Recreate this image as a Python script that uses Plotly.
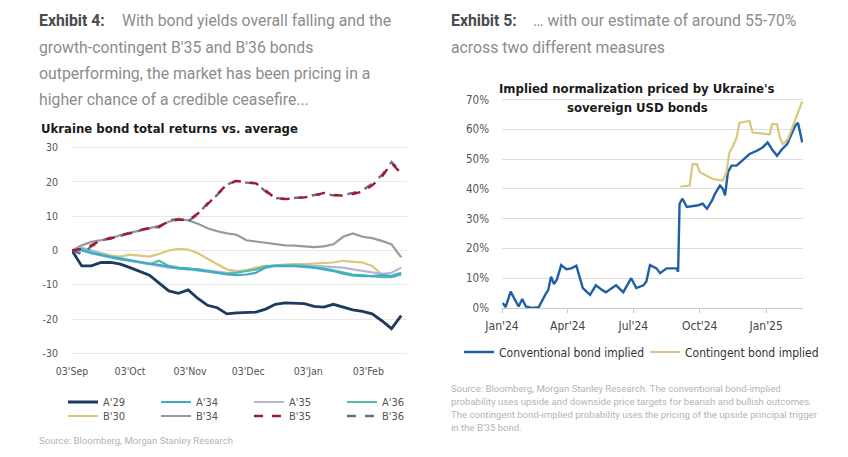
import plotly.graph_objects as go

W, H = 848, 457

# ---------------- Left chart data (Exhibit 4) ----------------
left_dates = [
    "2024-09-03", "2024-09-08", "2024-09-13", "2024-09-18", "2024-09-23", "2024-09-28",
    "2024-10-03", "2024-10-08", "2024-10-13", "2024-10-18", "2024-10-23", "2024-10-28",
    "2024-11-02", "2024-11-07", "2024-11-12", "2024-11-17", "2024-11-22", "2024-11-27",
    "2024-12-02", "2024-12-07", "2024-12-12", "2024-12-17", "2024-12-22", "2024-12-27",
    "2025-01-01", "2025-01-06", "2025-01-11", "2025-01-16", "2025-01-21", "2025-01-26",
    "2025-01-31", "2025-02-05", "2025-02-10", "2025-02-15", "2025-02-20",
]
a29 = [0, -4.5, -4.5, -3.5, -3.5, -4.0, -5.0, -6.0, -7.2, -9.5, -11.8, -12.5,
       -11.5, -14.0, -16.0, -16.7, -18.5, -18.2, -18.0, -18.0, -17.1, -15.7, -15.3, -15.4,
       -15.5, -16.3, -16.5, -15.7, -16.5, -17.3, -17.8, -18.5, -20.5, -22.8, -19.0]
a34 = [0, 0, -0.8, -1.5, -2.0, -2.5, -3.0, -3.5, -3.8, -4.2, -4.8, -5.2,
       -5.5, -5.5, -6.0, -6.5, -7.0, -7.2, -7.0, -6.5, -5.0, -4.5, -4.5, -4.6,
       -4.8, -5.0, -5.5, -6.0, -6.8, -7.3, -7.5, -7.5, -7.2, -7.4, -6.5]
a35 = [0, 0.8, 0, -1.0, -1.8, -2.5, -3.0, -3.5, -4.0, -4.5, -5.0, -5.2,
       -5.2, -5.5, -5.8, -6.2, -6.5, -6.3, -6.0, -5.5, -4.8, -4.3, -4.2, -4.2,
       -4.3, -4.5, -4.6, -4.8, -5.0, -5.5, -6.0, -6.5, -6.8, -6.5, -5.0]
a36 = [0, 0.5, -0.5, -1.2, -1.8, -2.2, -2.8, -3.2, -4.0, -3.0, -4.5, -5.0,
       -5.2, -5.8, -6.2, -6.5, -6.8, -6.5, -6.0, -5.5, -4.6, -4.4, -4.3, -4.3,
       -4.5, -5.0, -5.2, -5.8, -6.3, -7.0, -7.2, -7.6, -7.8, -7.8, -7.0]
b30 = [0, 0.5, 0, -0.8, -1.5, -1.8, -1.2, -1.5, -1.8, -1.0, 0, 0.5,
       0.3, -0.8, -2.5, -4.0, -5.5, -6.0, -5.8, -5.0, -4.5, -4.3, -4.2, -4.0,
       -4.0, -3.8, -3.8, -3.5, -3.0, -3.2, -3.5, -4.5, -7.0, -7.8, -7.0]
b34 = [0, 1.5, 2.5, 3.0, 3.5, 4.5, 5.2, 5.8, 6.6, 7.2, 8.4, 9.2,
       8.8, 7.8, 6.5, 5.6, 5.0, 4.6, 3.0, 2.6, 2.1, 1.8, 1.5, 1.4,
       1.3, 1.0, 1.2, 1.8, 4.0, 5.0, 4.0, 3.6, 2.8, 1.8, -2.0]
b35 = [0, 0.5, 1.5, 3.0, 3.5, 4.5, 5.0, 6.0, 6.5, 7.0, 8.5, 9.0,
       8.8, 10.8, 13.5, 16.5, 19.3, 20.3, 20.0, 19.6, 17.5, 15.2, 15.0, 15.2,
       15.5, 16.0, 16.8, 16.2, 16.0, 16.5, 17.2, 19.0, 21.5, 25.5, 22.5]
b36 = [0, -1.0, 1.2, 2.8, 3.8, 4.2, 5.3, 5.8, 6.8, 6.8, 8.8, 9.2,
       8.6, 10.5, 13.8, 16.2, 19.2, 20.4, 19.8, 19.6, 17.2, 15.3, 15.1, 15.4,
       15.6, 16.2, 16.6, 16.1, 16.2, 16.8, 17.5, 19.5, 22.0, 25.8, 23.0]

left_tickvals = ["2024-09-03", "2024-10-03", "2024-11-03", "2024-12-03", "2025-01-03", "2025-02-03"]
left_ticktext = ["03'Sep", "03'Oct", "03'Nov", "03'Dec", "03'Jan", "03'Feb"]
left_yvals = [-30, -20, -10, 0, 10, 20, 30]
left_ytext = ["-30", "-20", "-10", "0", "10", "20", "30"]

# ---------------- Right chart data (Exhibit 5) ----------------
conv_dates = [
    "2024-01-02", "2024-01-06", "2024-01-13", "2024-01-19", "2024-01-24", "2024-01-29",
    "2024-02-03", "2024-02-11", "2024-02-21", "2024-03-01", "2024-03-05", "2024-03-09",
    "2024-03-13", "2024-03-17", "2024-03-23", "2024-03-30", "2024-04-06", "2024-04-13",
    "2024-04-22", "2024-05-02", "2024-05-10", "2024-05-19", "2024-05-24", "2024-05-31",
    "2024-06-07", "2024-06-17", "2024-06-28", "2024-07-05", "2024-07-15", "2024-07-19",
    "2024-07-24", "2024-08-02", "2024-08-07", "2024-08-16", "2024-08-30", "2024-09-01",
    "2024-09-03", "2024-09-07", "2024-09-13", "2024-09-27", "2024-10-05", "2024-10-11",
    "2024-10-18", "2024-10-22", "2024-10-29", "2024-11-02", "2024-11-05", "2024-11-09",
    "2024-11-14", "2024-11-21", "2024-11-28", "2024-12-09", "2024-12-19", "2024-12-27",
    "2025-01-03", "2025-01-09", "2025-01-16", "2025-01-23", "2025-01-30", "2025-02-06",
    "2025-02-10", "2025-02-14", "2025-02-20",
]
conv_vals = [1.7, 0.3, 5.5, 2.5, 0.5, 3.0,
             0.5, 0.0, 0.3, 4.5, 6.0, 10.5,
             8.0, 9.5, 14.4, 13.0, 13.3, 14.2,
             6.7, 4.4, 7.6, 6.0, 5.3, 6.5,
             7.6, 5.3, 10.0, 6.7, 7.6, 8.9,
             14.4, 13.3, 11.7, 13.3, 13.3, 12.2,
             35.0, 36.7, 33.9, 34.4, 35.0, 33.3,
             36.1, 38.3, 41.1, 40.0, 37.8, 45.6,
             47.8, 47.8, 49.4, 51.7, 52.8, 53.9,
             55.6, 53.3, 51.1, 53.3, 55.0, 58.9,
             61.1, 62.2, 55.6]
cont_dates = [
    "2024-09-04", "2024-09-17", "2024-09-21", "2024-09-27", "2024-10-01", "2024-10-11",
    "2024-10-19", "2024-11-02", "2024-11-07", "2024-11-11", "2024-11-16", "2024-11-21",
    "2024-11-25", "2024-12-09", "2024-12-13", "2025-01-06", "2025-01-09", "2025-01-16",
    "2025-01-20", "2025-01-24", "2025-01-31", "2025-02-07", "2025-02-14", "2025-02-20",
]
cont_vals = [40.8, 41.1, 48.3, 48.3, 45.6, 44.4,
             43.3, 42.8, 45.6, 52.2, 54.4, 57.2,
             62.2, 62.8, 58.9, 58.3, 61.7, 61.7,
             57.2, 55.0, 56.7, 61.1, 65.6, 69.4]

right_tickvals = ["2024-01-01", "2024-04-01", "2024-07-01", "2024-10-01", "2025-01-01"]
right_ticktext = ["Jan'24", "Apr'24", "Jul'24", "Oct'24", "Jan'25"]
right_yvals = [0, 10, 20, 30, 40, 50, 60, 70]
right_ytext = ["0%", "10%", "20%", "30%", "40%", "50%", "60%", "70%"]

COND = "DejaVu Sans Condensed, Roboto, sans-serif"
BODY = "Roboto, Inter, Liberation Sans, sans-serif"

fig = go.Figure()

left_series = [
    ("A'29", a29, "#1d3b5e", "solid", 2.8, "legend"),
    ("A'34", a34, "#3fa9cf", "solid", 2.2, "legend"),
    ("A'35", a35, "#b9b3d6", "solid", 2.2, "legend"),
    ("A'36", a36, "#55bf9d", "solid", 2.2, "legend"),
    ("B'30", b30, "#d8c878", "solid", 2.2, "legend2"),
    ("B'34", b34, "#999999", "solid", 2.2, "legend2"),
    ("B'36", b36, "#6f6a8c", "dash", 2.4, "legend2"),
    ("B'35", b35, "#a3172f", "dash", 2.4, "legend2"),
]
draw_order = ["B'34", "B'30", "A'35", "A'36", "A'34", "A'29", "B'36", "B'35"]
legend_rank = {"A'29": 1, "A'34": 2, "A'35": 3, "A'36": 4, "B'30": 5, "B'34": 6, "B'35": 7, "B'36": 8}
series_map = {s[0]: s for s in left_series}
for name in draw_order:
    _, vals, col, dash, wid, lg = series_map[name]
    fig.add_trace(go.Scatter(
        x=left_dates, y=vals, name=name, mode="lines",
        line=dict(color=col, width=wid, dash=dash),
        xaxis="x", yaxis="y", legend=lg, legendrank=legend_rank[name],
    ))

fig.add_trace(go.Scatter(
    x=conv_dates, y=conv_vals, name="Conventional bond implied", mode="lines",
    line=dict(color="#1f5fa6", width=2.4), xaxis="x2", yaxis="y2", legend="legend3",
    legendrank=1,
))
fig.add_trace(go.Scatter(
    x=cont_dates, y=cont_vals, name="Contingent bond implied", mode="lines",
    line=dict(color="#d8c77e", width=2.2), xaxis="x2", yaxis="y2", legend="legend3",
    legendrank=2,
))

def px_x(p):
    return p / W

def px_y(p):
    return 1 - p / H

fig.update_layout(
    width=W, height=H,
    margin=dict(l=0, r=0, t=0, b=0, autoexpand=False),
    paper_bgcolor="white", plot_bgcolor="white",
    showlegend=True,
    xaxis=dict(
        domain=[px_x(72), px_x(407)], range=["2024-09-03", "2025-02-23"],
        tickvals=left_tickvals, ticktext=left_ticktext,
        showgrid=False, zeroline=False, showline=False, ticks="",
        tickfont=dict(family=COND, size=10.5, color="#555555"),
        ticklabelstandoff=8, fixedrange=True,
    ),
    yaxis=dict(
        domain=[px_y(355), px_y(146)], range=[-30.5, 30.5],
        tickvals=left_yvals, ticktext=left_ytext,
        showgrid=True, gridcolor="#e8e8e8", gridwidth=1,
        zeroline=False, showline=False, ticks="",
        tickfont=dict(family=COND, size=10.5, color="#555555"),
        ticklabelstandoff=13, fixedrange=True,
    ),
    xaxis2=dict(
        domain=[px_x(502), px_x(803)], range=["2024-01-01", "2025-02-21"],
        tickvals=right_tickvals, ticktext=right_ticktext,
        showgrid=False, zeroline=False, showline=True, linecolor="#c8c8c8", linewidth=1,
        ticks="outside", ticklen=4, tickcolor="#c8c8c8",
        tickfont=dict(family=COND, size=12, color="#444444"),
        ticklabelstandoff=3, anchor="y2", fixedrange=True,
    ),
    yaxis2=dict(
        domain=[px_y(308), px_y(98)], range=[0, 70.5],
        tickvals=right_yvals, ticktext=right_ytext,
        showgrid=True, gridcolor="#dedede", gridwidth=1,
        zeroline=False, showline=False, ticks="",
        tickfont=dict(family=COND, size=11.5, color="#555555"),
        ticklabelstandoff=12, anchor="x2", fixedrange=True,
    ),
    legend=dict(
        orientation="h", x=px_x(63), y=px_y(402), xanchor="left", yanchor="middle",
        entrywidth=48, entrywidthmode="pixels", bgcolor="rgba(0,0,0,0)",
        font=dict(family=COND, size=11, color="#555555"), itemwidth=30,
        tracegroupgap=0,
    ),
    legend2=dict(
        orientation="h", x=px_x(63), y=px_y(416), xanchor="left", yanchor="middle",
        entrywidth=48, entrywidthmode="pixels", bgcolor="rgba(0,0,0,0)",
        font=dict(family=COND, size=11, color="#555555"), itemwidth=30,
        tracegroupgap=0,
    ),
    legend3=dict(
        orientation="h", x=px_x(459), y=px_y(352), xanchor="left", yanchor="middle",
        entrywidth=141, entrywidthmode="pixels", bgcolor="rgba(0,0,0,0)",
        font=dict(family=COND, size=12, color="#333333"), itemwidth=30,
        tracegroupgap=0,
    ),
)

GRAY = "#8c8c8c"
DARK = "#4a4a4a"
HS = 15.8
SS = 9.6
annots = [
    # Left header
    dict(x=37, y=21, text="<b>Exhibit 4:</b>", color=DARK, size=HS, family=BODY),
    dict(x=120, y=21, text="With bond yields overall falling and the", color=GRAY, size=HS, family=BODY),
    dict(x=37, y=47, text="growth-contingent B'35 and B'36 bonds", color=GRAY, size=HS, family=BODY),
    dict(x=37, y=73, text="outperforming, the market has been pricing in a", color=GRAY, size=HS, family=BODY),
    dict(x=37, y=99, text="higher chance of a credible ceasefire...", color=GRAY, size=HS, family=BODY),
    # Left chart title
    dict(x=39, y=128, text="<b>Ukraine bond total returns vs. average</b>", color="#1a1a1a", size=13, family=COND),
    # Left source
    dict(x=37, y=440, text="Source: Bloomberg, Morgan Stanley Research", color="#b4b4b4", size=SS, family=BODY),
    # Right header
    dict(x=449, y=21, text="<b>Exhibit 5:</b>", color=DARK, size=HS, family=BODY),
    dict(x=531, y=21, text="\u2026 with our estimate of around 55-70%", color=GRAY, size=HS, family=BODY),
    dict(x=449, y=47, text="across two different measures", color=GRAY, size=HS, family=BODY),
    # Right source
    dict(x=449, y=388, text="Source: Bloomberg, Morgan Stanley Research. The conventional bond-implied", color="#b4b4b4", size=SS, family=BODY),
    dict(x=449, y=401, text="probability uses upside and downside price targets for bearish and bullish outcomes.", color="#b4b4b4", size=SS, family=BODY),
    dict(x=449, y=414, text="The contingent bond-implied probability uses the pricing of the upside principal trigger", color="#b4b4b4", size=SS, family=BODY),
    dict(x=449, y=427, text="in the B'35 bond.", color="#b4b4b4", size=SS, family=BODY),
]
for a in annots:
    fig.add_annotation(
        x=px_x(a["x"]), y=px_y(a["y"]), xref="paper", yref="paper",
        xanchor="left", yanchor="middle", showarrow=False, align="left",
        text=a["text"], font=dict(family=a["family"], size=a["size"], color=a["color"]),
    )

# Right chart title (centered, two lines)
for txt, yy in [("<b>Implied normalization priced by Ukraine's</b>", 89), ("<b>sovereign USD bonds</b>", 107)]:
    fig.add_annotation(
        x=px_x(637), y=px_y(yy), xref="paper", yref="paper",
        xanchor="center", yanchor="middle", showarrow=False,
        text=txt, font=dict(family=COND, size=13, color="#1a1a1a"),
    )

fig.write_html(
    "out.html",
    config={"displayModeBar": False},
    post_script="document.body.style.margin='0';document.body.style.padding='0';",
)
